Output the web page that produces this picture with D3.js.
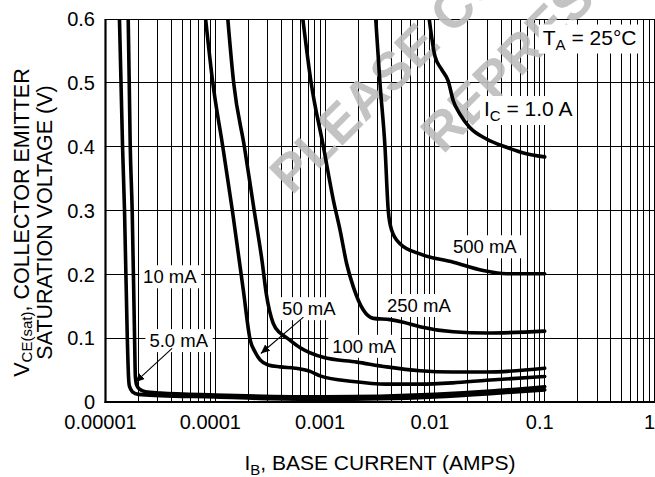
<!DOCTYPE html>
<html>
<head>
<meta charset="utf-8">
<script src="https://cdn.jsdelivr.net/npm/d3@7"></script>
<style>
  html, body { margin: 0; padding: 0; background: #fff; }
  svg { display: block; font-family: "Liberation Sans", Arial, Helvetica, sans-serif; }
</style>
</head>
<body>
<svg id="chart" width="655" height="477"></svg>
<script>
// Axis ticks
const ibDecades = [1e-5, 1e-4, 1e-3, 1e-2, 1e-1, 1];
const ibDecadeLabels = ["0.00001", "0.0001", "0.001", "0.01", "0.1", "1"];
const vceTicks = [0, 0.1, 0.2, 0.3, 0.4, 0.5, 0.6];
const vceTickLabels = ["0", "0.1", "0.2", "0.3", "0.4", "0.5", "0.6"];

// Curves: [IB (A), VCE(sat) (V)]
const curve5mA = [
  [1.34e-5, 0.6], [1.43e-5, 0.4], [1.49e-5, 0.3], [1.58e-5, 0.1], [1.62e-5, 0.04],
  [1.65e-5, 0.025], [1.76e-5, 0.016], [2.0e-5, 0.012], [3.16e-5, 0.010], [1e-4, 0.008],
  [3.2e-4, 0.005], [1e-3, 0.004], [3.2e-3, 0.005], [1e-2, 0.008], [3.2e-2, 0.013], [0.1, 0.019]
];
const curve10mA = [
  [1.61e-5, 0.6], [1.68e-5, 0.4], [1.75e-5, 0.3], [1.84e-5, 0.1], [1.87e-5, 0.04],
  [1.91e-5, 0.028], [2.04e-5, 0.02], [2.31e-5, 0.016], [3.16e-5, 0.014], [1e-4, 0.011],
  [1e-3, 0.008], [1e-2, 0.012], [3.2e-2, 0.017], [0.1, 0.024]
];
const curve50mA = [
  [8.16e-5, 0.6], [9.49e-5, 0.5], [1.17e-4, 0.4], [1.43e-4, 0.3], [1.8e-4, 0.175],
  [2.08e-4, 0.097], [2.31e-4, 0.078], [2.56e-4, 0.066], [3.03e-4, 0.058], [3.9e-4, 0.055],
  [5.33e-4, 0.053], [7.3e-4, 0.048], [9.0e-4, 0.041], [1.8e-3, 0.032], [3.64e-3, 0.028],
  [7.3e-3, 0.028], [1.46e-2, 0.030], [2.95e-2, 0.034], [0.1, 0.040]
];
const curve100mA = [
  [1.3e-4, 0.6], [1.47e-4, 0.5], [1.84e-4, 0.4], [2.26e-4, 0.3], [2.67e-4, 0.22],
  [2.91e-4, 0.17], [3.37e-4, 0.123], [3.9e-4, 0.108], [4.51e-4, 0.100], [5.93e-4, 0.085],
  [9.6e-4, 0.070], [1.95e-3, 0.0625], [3.64e-3, 0.055], [7.3e-3, 0.049], [1.46e-2, 0.047],
  [2.95e-2, 0.047], [0.1, 0.053]
];
const curve250mA = [
  [6.27e-4, 0.6], [7.46e-4, 0.5], [9.65e-4, 0.4], [1.19e-3, 0.316], [1.37e-3, 0.269],
  [1.57e-3, 0.217], [1.81e-3, 0.18], [2.23e-3, 0.144], [2.75e-3, 0.131], [3.9e-3, 0.129],
  [5.15e-3, 0.125], [7.3e-3, 0.118], [1.47e-2, 0.110], [2.95e-2, 0.108], [0.1, 0.111]
];
const curve500mA = [
  [2.89e-3, 0.6], [3.16e-3, 0.5], [3.51e-3, 0.4], [3.76e-3, 0.3], [4.04e-3, 0.269],
  [4.81e-3, 0.248], [7.3e-3, 0.232], [1.47e-2, 0.219], [2.75e-2, 0.206], [4.49e-2, 0.201],
  [0.1, 0.201]
];
const curve1A = [
  [8.88e-3, 0.6], [1.0e-2, 0.542], [1.15e-2, 0.521], [1.32e-2, 0.503], [1.47e-2, 0.472],
  [1.69e-2, 0.451], [2.08e-2, 0.43], [2.95e-2, 0.412], [4.49e-2, 0.399], [6.82e-2, 0.389],
  [0.1, 0.384]
];
const curves = [curve5mA, curve10mA, curve50mA, curve100mA, curve250mA, curve500mA, curve1A];

// Curve labels: text, subscript, trailing text, anchor [IB, VCE] at left baseline
const labelTexts = ["T", "I", "500 mA", "250 mA", "100 mA", "50 mA", "10 mA", "5.0 mA"];
const labelSubs = ["A", "C", "", "", "", "", "", ""];
const labelTails = [" = 25°C", " = 1.0 A", "", "", "", "", "", ""];
const labelAnchors = [
  [0.096, 0.560], [2.8e-2, 0.448], [1.46e-2, 0.233], [3.66e-3, 0.141],
  [1.16e-3, 0.077], [4.06e-4, 0.136], [2.2e-5, 0.186], [2.51e-5, 0.086]
];
// Leader arrows [from, to] in data units
const arrows = [
  [[4.04e-5, 0.084], [1.87e-5, 0.031]],
  [[6.35e-4, 0.133], [2.6e-4, 0.076]]
];

const svg = d3.select("#chart");
const margin = { left: 105.5, right: 0.5, top: 19, bottom: 75 };
const width = 655, height = 477;

const x = d3.scaleLog().domain([1e-5, 1]).range([margin.left, width - margin.right]);
const y = d3.scaleLinear().domain([0, 0.6]).range([height - margin.bottom, margin.top]);

const defs = svg.append("defs");
defs.append("clipPath").attr("id", "plot-clip")
  .append("rect")
  .attr("x", x(1e-5)).attr("y", y(0.6))
  .attr("width", x(1) - x(1e-5)).attr("height", y(0) - y(0.6));

defs.append("marker")
  .attr("id", "arrow")
  .attr("viewBox", "0 -5 10 10")
  .attr("refX", 10).attr("refY", 0)
  .attr("markerWidth", 9).attr("markerHeight", 9)
  .attr("markerUnits", "userSpaceOnUse")
  .attr("orient", "auto")
  .append("path")
  .attr("d", "M0,-4.5L10,0L0,4.5Z")
  .attr("fill", "#000");

// Grid
const grid = svg.append("g").attr("class", "grid")
  .attr("stroke", "#000").attr("stroke-width", 1)
  .attr("shape-rendering", "crispEdges");
grid.selectAll("line.v")
  .data(x.ticks())
  .enter().append("line")
  .attr("class", "v")
  .attr("x1", d => x(d)).attr("x2", d => x(d))
  .attr("y1", y(0)).attr("y2", y(0.6));
grid.selectAll("line.h")
  .data(vceTicks)
  .enter().append("line")
  .attr("class", "h")
  .attr("x1", x(1e-5)).attr("x2", x(1))
  .attr("y1", d => y(d)).attr("y2", d => y(d));

// Watermark
const wm = svg.append("g").attr("class", "watermark")
  .attr("fill", "#bdbdbd").attr("opacity", 0.9)
  .attr("font-weight", "bold").attr("font-size", 53);
wm.append("text").attr("transform", "translate(292,196) rotate(-45)").text("PLEASE CONTACT");
wm.append("text").attr("transform", "translate(443,155) rotate(-45)").text("REPRESENTATIVE");

// Axes lines (left and bottom heavier)
svg.append("line")
  .attr("x1", x(1e-5)).attr("x2", x(1e-5)).attr("y1", y(0) + 1).attr("y2", y(0.6))
  .attr("stroke", "#000").attr("stroke-width", 2.2);
svg.append("line")
  .attr("x1", x(1e-5) - 1).attr("x2", x(1)).attr("y1", y(0)).attr("y2", y(0))
  .attr("stroke", "#000").attr("stroke-width", 2.2);

// Labels with white boxes (the two header labels are set larger)
const labelGroup = svg.append("g").attr("class", "labels").attr("fill", "#000");
labelTexts.forEach((t, i) => {
  const big = !!labelSubs[i];
  const g = labelGroup.append("g");
  const txt = g.append("text")
    .attr("x", x(labelAnchors[i][0]))
    .attr("y", y(labelAnchors[i][1]))
    .attr("font-size", big ? 21 : 18.5);
  txt.append("tspan").text(t);
  if (big) {
    txt.append("tspan").attr("font-size", 15).attr("dy", 5).text(labelSubs[i]);
    txt.append("tspan").attr("dy", -5).text(labelTails[i]);
  }
  const bb = txt.node().getBBox();
  g.insert("rect", "text")
    .attr("x", bb.x - 4).attr("y", bb.y - 1)
    .attr("width", bb.width + 8).attr("height", bb.height + 2)
    .attr("fill", "#fff");
});

// Curves
const line = d3.line()
  .x(d => x(d[0]))
  .y(d => y(d[1]))
  .curve(d3.curveMonotoneX);
svg.append("g").attr("clip-path", "url(#plot-clip)")
  .selectAll("path")
  .data(curves)
  .enter().append("path")
  .attr("d", line)
  .attr("fill", "none")
  .attr("stroke", "#000")
  .attr("stroke-width", 3.6)
  .attr("stroke-linejoin", "round")
  .attr("stroke-linecap", "round");

// Leader arrows
svg.append("g").selectAll("line")
  .data(arrows)
  .enter().append("line")
  .attr("x1", d => x(d[0][0])).attr("y1", d => y(d[0][1]))
  .attr("x2", d => x(d[1][0])).attr("y2", d => y(d[1][1]))
  .attr("stroke", "#000").attr("stroke-width", 1.1)
  .attr("marker-end", "url(#arrow)");

// Tick labels
svg.append("g").attr("font-size", 20).attr("text-anchor", "middle")
  .selectAll("text")
  .data(ibDecades)
  .enter().append("text")
  .attr("x", d => x(d) - 5)
  .attr("y", 429)
  .text((d, i) => ibDecadeLabels[i]);

svg.append("g").attr("font-size", 20).attr("text-anchor", "end")
  .selectAll("text")
  .data(vceTicks)
  .enter().append("text")
  .attr("x", 95)
  .attr("y", d => y(d))
  .attr("dy", "0.36em")
  .text((d, i) => vceTickLabels[i]);

// Axis titles
const xTitle = svg.append("text")
  .attr("x", (x(1e-5) + x(1)) / 2).attr("y", 470)
  .attr("text-anchor", "middle").attr("font-size", 21);
xTitle.append("tspan").text("I");
xTitle.append("tspan").attr("font-size", 15).attr("dy", 5).text("B");
xTitle.append("tspan").attr("dy", -5).text(", BASE CURRENT (AMPS)");

const yTitle1 = svg.append("text")
  .attr("transform", "translate(28.5,222.5) rotate(-90)")
  .attr("text-anchor", "middle").attr("font-size", 21.5);
yTitle1.append("tspan").text("V");
yTitle1.append("tspan").attr("font-size", 15).attr("dy", 3.5).text("CE(sat)");
yTitle1.append("tspan").attr("dy", -3.5).text(", COLLECTOR EMITTER");

svg.append("text")
  .attr("transform", "translate(52,222.5) rotate(-90)")
  .attr("text-anchor", "middle").attr("font-size", 21.5)
  .text("SATURATION VOLTAGE (V)");
</script>
</body>
</html>
